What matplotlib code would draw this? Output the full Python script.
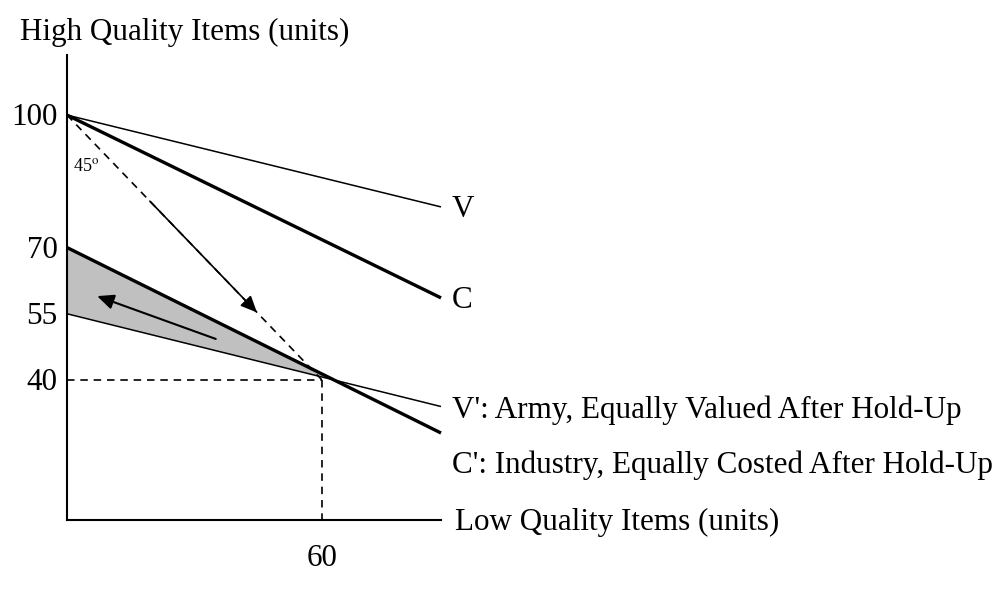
import matplotlib
matplotlib.use("Agg")
import matplotlib.pyplot as plt
import numpy as np

plt.rcParams['font.family'] = ['Liberation Serif', 'DejaVu Serif']
plt.rcParams['mathtext.fontset'] = 'stix'

# Data
x_end = 88
V_line = [(0, 100), (x_end, 79.2)]
C_line = [(0, 100), (x_end, 58.6)]
Vp_line = [(0, 55), (x_end, 34.0)]
Cp_line = [(0, 70), (x_end, 28.0)]
intersect = (60, 40)
diag_arrow = [(19.5, 80.5), (44.7, 55.3)]
shade_arrow = [(35, 49.3), (7.1, 59.0)]
y_ticks = [100, 70, 55, 40]
x_ticks = [60]
line_labels = ["V", "C", "V': Army, Equally Valued After Hold-Up",
               "C': Industry, Equally Costed After Hold-Up"]

fig = plt.figure(figsize=(10.04, 5.94), dpi=100)
ax = fig.add_axes([67/1004, 1-520/594, (441-67)/1004, (520-55)/594])
ax.set_xlim(0, 88)
ax.set_ylim(8.3, 113.6)
for s in ['top', 'right']:
    ax.spines[s].set_visible(False)
for s in ['left', 'bottom']:
    ax.spines[s].set_linewidth(1.5)
ax.set_xticks([])
ax.set_yticks([])

# shaded region: between C' and V' from the y-axis to where they cross
sv = (Vp_line[1][1] - Vp_line[0][1]) / x_end
sc = (Cp_line[1][1] - Cp_line[0][1]) / x_end
xi = (Cp_line[0][1] - Vp_line[0][1]) / (sv - sc)
yi = Vp_line[0][1] + sv * xi
ax.fill([0, 0, xi], [Cp_line[0][1], Vp_line[0][1], yi], color='#c0c0c0', zorder=1, lw=0)

# lines
def seg(line, lw):
    ax.plot([line[0][0], line[1][0]], [line[0][1], line[1][1]], color='black', lw=lw,
            solid_capstyle='butt', zorder=3, clip_on=False)

seg(V_line, 1.1)
seg(C_line, 2.4)
seg(Vp_line, 1.1)
seg(Cp_line, 2.4)

# dashed
dash = (0, (4.5, 3.5))
ax.plot([0, intersect[0]], [100, intersect[1]], color='black', lw=1.2, ls=dash, zorder=2)
ax.plot([0, intersect[0]], [intersect[1], intersect[1]], color='black', lw=1.2, ls=dash, zorder=2)
ax.plot([intersect[0], intersect[0]], [intersect[1], 8.3], color='black', lw=1.2, ls=dash, zorder=2)

# arrows
ax.annotate('', xy=diag_arrow[1], xytext=diag_arrow[0],
            arrowprops=dict(arrowstyle='-|>,head_length=1.0,head_width=0.45', color='black', lw=1.2,
                            shrinkA=0, shrinkB=0), zorder=4)
ax.annotate('', xy=shade_arrow[1], xytext=shade_arrow[0],
            arrowprops=dict(arrowstyle='-|>,head_length=1.0,head_width=0.45', color='black', lw=1.5,
                            shrinkA=0, shrinkB=0), zorder=4)

fs = 22.4
off = -0.6  # small downward nudge so glyphs sit centred like the reference
# y tick labels
for v in y_ticks:
    ax.text(-2.2, v + off, str(v), ha='right', va='center', fontsize=fs, clip_on=False)
for v in x_ticks:
    ax.text(v, -0.5, str(v), ha='center', va='center', fontsize=fs, clip_on=False)

ax.text(1.4, 88.3, r'45$^{\rm o}$', ha='left', va='center', fontsize=13)

# line labels
label_y = [79.2, 58.6, 33.7, 21.4]
for lab, y in zip(line_labels, label_y):
    ax.text(x_end + 2.6, y + off, lab, ha='left', va='center', fontsize=fs, clip_on=False)

ax.text(x_end + 3.3, 8.3 + off, 'Low Quality Items (units)', ha='left', va='center', fontsize=fs, clip_on=False)
fig.text(20/1004, 1-32/594, 'High Quality Items (units)', ha='left', va='center', fontsize=fs)

fig.savefig('out.png', dpi=100)
